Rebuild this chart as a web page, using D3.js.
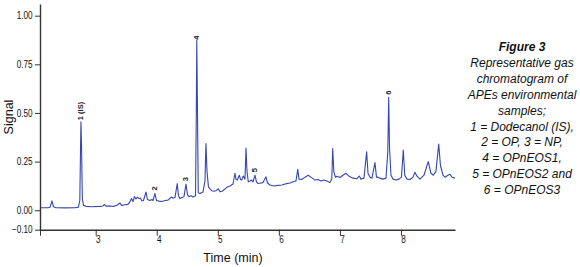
<!DOCTYPE html>
<html>
<head>
<meta charset="utf-8">
<script src="https://cdn.jsdelivr.net/npm/d3@7/dist/d3.min.js"></script>
<style>
  html, body { margin: 0; padding: 0; background: #fff; }
  svg { display: block; }
</style>
</head>
<body>
<svg id="chart" width="580" height="267"></svg>
<script>
// ---- data ----
const times = [2.088,2.219,2.252,2.284,2.309,2.350,2.497,2.661,2.718,2.740,2.751,2.759,2.769,2.781,2.800,2.841,2.939,
  3.070,3.120,3.144,3.169,3.234,3.300,3.349,3.398,3.423,3.480,3.529,3.562,3.586,3.611,3.635,3.660,3.685,3.709,3.734,3.758,3.783,3.824,3.848,3.889,3.922,3.938,3.971,3.996,
  4.037,4.086,4.135,4.184,4.241,4.266,4.299,4.336,4.356,4.381,4.413,4.446,4.479,4.503,4.528,4.561,4.594,4.635,4.648,4.656,4.666,4.680,4.708,4.757,4.790,4.806,4.823,4.847,4.872,4.905,4.938,4.970,
  5.008,5.036,5.069,5.101,5.146,5.200,5.249,5.281,5.298,5.319,5.352,5.372,5.391,5.417,5.445,5.462,5.478,5.499,5.527,5.555,5.576,5.609,5.634,5.663,5.707,5.740,5.789,5.814,5.855,5.920,5.986,
  6.051,6.128,6.182,6.231,6.280,6.310,6.330,6.374,6.428,6.482,6.526,6.592,6.641,6.690,6.739,6.788,6.837,6.867,6.882,6.900,6.927,6.952,
  7.001,7.050,7.099,7.149,7.214,7.280,7.317,7.345,7.394,7.438,7.460,7.493,7.525,7.574,7.599,7.624,7.656,7.705,7.755,7.784,7.799,7.813,7.836,7.869,7.918,7.967,
  8.008,8.038,8.062,8.099,8.148,8.197,8.229,8.262,8.311,8.377,8.447,8.492,8.529,8.573,8.618,8.647,8.688,8.721,8.770,8.803,8.835,8.885];
const signal = [0.013,0.013,0.015,0.048,0.018,0.013,0.012,0.013,0.016,0.05,0.30,0.454,0.32,0.06,0.025,0.02,0.018,
  0.02,0.022,0.03,0.021,0.022,0.02,0.026,0.037,0.025,0.028,0.03,0.044,0.06,0.045,0.07,0.058,0.068,0.06,0.062,0.048,0.05,0.094,0.055,0.05,0.055,0.05,0.086,0.05,
  0.047,0.045,0.05,0.052,0.068,0.062,0.066,0.137,0.075,0.06,0.065,0.07,0.134,0.08,0.07,0.075,0.068,0.075,0.5,0.874,0.55,0.09,0.086,0.094,0.15,0.343,0.2,0.12,0.11,0.1,0.098,0.1,
  0.11,0.095,0.098,0.105,0.118,0.125,0.135,0.19,0.16,0.155,0.18,0.158,0.155,0.176,0.16,0.32,0.2,0.146,0.15,0.155,0.145,0.18,0.145,0.137,0.14,0.142,0.172,0.14,0.13,0.125,0.128,
  0.13,0.137,0.14,0.146,0.15,0.21,0.16,0.158,0.17,0.18,0.17,0.155,0.158,0.15,0.155,0.15,0.142,0.16,0.317,0.2,0.17,0.175,
  0.168,0.18,0.19,0.175,0.165,0.162,0.176,0.16,0.165,0.30,0.19,0.17,0.165,0.245,0.17,0.17,0.165,0.16,0.165,0.3,0.58,0.32,0.18,0.16,0.155,0.16,
  0.17,0.31,0.18,0.16,0.158,0.17,0.195,0.175,0.16,0.18,0.25,0.19,0.18,0.2,0.34,0.23,0.18,0.17,0.18,0.185,0.17,0.165];

const peakLabels = ["1 (IS)", "2", "3", "4", "5", "6"];
const peakLabelTimes = [2.75, 3.965, 4.474, 4.654, 5.609, 7.803];
const peakLabelValues = [0.51, 0.112, 0.16, 0.887, 0.206, 0.604];

const xTickValues = [3, 4, 5, 6, 7, 8];
const yTickValues = [-0.10, 0.00, 0.25, 0.50, 0.75, 1.00];
const xDomain = [2.088, 8.885];
const yDomain = [-0.10, 1.06];

const captionTitle = "Figure 3";
const captionLines = ["Representative gas", "chromatogram of", "APEs environmental", "samples;",
  "1 = Dodecanol (IS),", "2 = OP, 3 = NP,", "4 = OPnEOS1,", "5 = OPnEOS2 and", "6 = OPnEOS3"];

// ---- drawing ----
(function () {
const svg = d3.select("#chart");
const sans = "Arial, 'Liberation Sans', sans-serif";
const mLeft = 40, mRight = 455, mTop = 4, mBottom = 229.7;

const x = d3.scaleLinear().domain(xDomain).range([mLeft, mRight]);
const y = d3.scaleLinear().domain(yDomain).range([mBottom, mTop]);

svg.append("rect").attr("width", 580).attr("height", 267).attr("fill", "#fff");

// line
const data = times.map((t, i) => [t, signal[i]]);
svg.append("path")
  .datum(data)
  .attr("fill", "none")
  .attr("stroke", "#3547b0")
  .attr("stroke-width", 1.1)
  .attr("stroke-linejoin", "round")
  .attr("d", d3.line().x(d => x(d[0])).y(d => y(d[1])));

// axes
const xAxis = svg.append("g")
  .attr("transform", `translate(0,${mBottom})`)
  .call(d3.axisBottom(x).tickValues([xDomain[0]].concat(xTickValues)).tickSize(6).tickSizeOuter(0)
    .tickFormat(d => xTickValues.includes(d) ? d3.format("d")(d) : ""));
xAxis.select(".domain").attr("stroke", "#333").attr("stroke-width", 1.4);
xAxis.selectAll(".tick line").attr("stroke", "#333").attr("stroke-width", 1);
xAxis.selectAll(".tick text").attr("font-family", sans).attr("font-size", 10).attr("fill", "#111")
  .attr("x", 2.5).attr("y", 6).attr("transform", "scale(0.82,1)");

const yAxis = svg.append("g")
  .attr("transform", `translate(${mLeft},0)`)
  .call(d3.axisLeft(y).tickValues(yTickValues).tickSize(5).tickSizeOuter(0)
    .tickFormat(d3.format(".2f")));
yAxis.select(".domain").attr("stroke", "#333").attr("stroke-width", 1.4);
yAxis.selectAll(".tick line").attr("stroke", "#333").attr("stroke-width", 1);
yAxis.selectAll(".tick text").attr("font-family", sans).attr("font-size", 10).attr("fill", "#111")
  .attr("x", -9).attr("transform", "scale(0.82,1)");

// axis titles
svg.append("text")
  .attr("transform", "translate(13,117) rotate(-90)")
  .attr("text-anchor", "middle")
  .attr("font-family", sans)
  .attr("font-size", 12.5)
  .attr("fill", "#111")
  .text("Signal");
svg.append("text")
  .attr("x", 233).attr("y", 262)
  .attr("text-anchor", "middle")
  .attr("font-family", sans)
  .attr("font-size", 12.5)
  .attr("fill", "#111")
  .text("Time (min)");

// peak labels
peakLabels.forEach((lab, i) => {
  svg.append("text")
    .attr("transform", `translate(${x(peakLabelTimes[i])},${y(peakLabelValues[i])}) rotate(-90)`)
    .attr("text-anchor", "middle")
    .attr("dominant-baseline", "central")
    .attr("font-family", sans)
    .attr("font-size", 7.5)
    .attr("font-weight", "bold")
    .attr("fill", "#222")
    .text(lab);
});

// caption
const cap = svg.append("text")
  .attr("text-anchor", "middle")
  .attr("font-family", sans)
  .attr("font-size", 12)
  .attr("font-style", "italic")
  .attr("fill", "#111");
cap.append("tspan").attr("x", 522).attr("y", 51).attr("font-weight", "bold").text(captionTitle);
captionLines.forEach((ln, i) => {
  cap.append("tspan").attr("x", 522).attr("y", 51 + (i + 1) * 15.9).text(ln);
});
})();
</script>
</body>
</html>
